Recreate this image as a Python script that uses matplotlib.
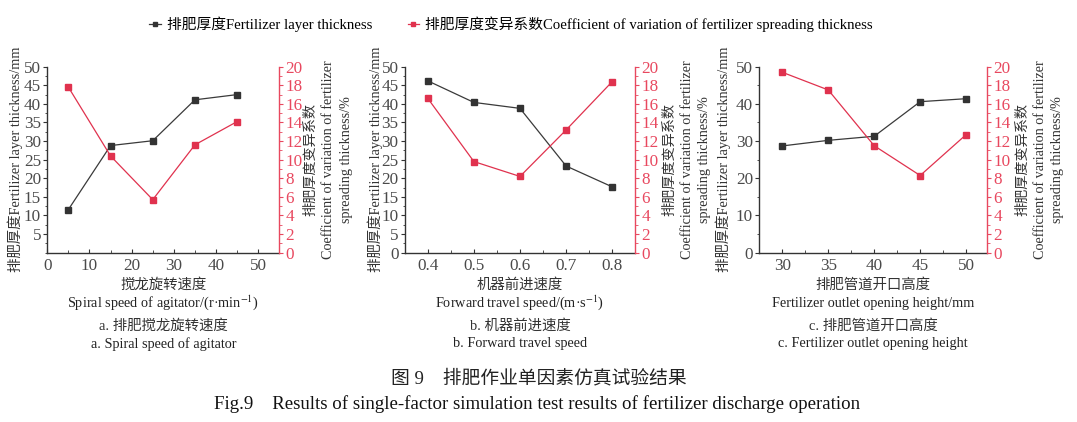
import matplotlib
matplotlib.use("Agg")
import matplotlib.pyplot as plt
from matplotlib.ticker import MultipleLocator
from matplotlib.lines import Line2D

plt.rcParams['font.family'] = ['Liberation Serif', 'Noto Sans CJK SC', 'DejaVu Sans']
plt.rcParams['mathtext.fontset'] = 'stix'

# ---- data ----
a_x = [5, 15, 25, 35, 45]
a_thick = [11.6, 28.8, 30.1, 41.1, 42.5]
a_cv = [17.8, 10.4, 5.7, 11.6, 14.1]

b_x = [0.4, 0.5, 0.6, 0.7, 0.8]
b_thick = [46.2, 40.4, 38.8, 23.3, 17.7]
b_cv = [16.6, 9.8, 8.2, 13.2, 18.4]

c_x = [30, 35, 40, 45, 50]
c_thick = [28.7, 30.2, 31.3, 40.6, 41.4]
c_cv = [19.4, 17.5, 11.5, 8.3, 12.7]

legend_labels = ["排肥厚度Fertilizer layer thickness",
                 "排肥厚度变异系数Coefficient of variation of fertilizer spreading thickness"]
left_label = "排肥厚度Fertilizer layer thickness/mm"
right_label = "排肥厚度变异系数\nCoefficient of variation of fertilizer\nspreading thickness/%"

xlabels_cn = ["搅龙旋转速度", "机器前进速度", "排肥管道开口高度"]
xlabels_en = ["Spiral speed of agitator/(r·min$^{-1}$)",
              "Forward travel speed/(m·s$^{-1}$)",
              "Fertilizer outlet opening height/mm"]
sub_cn = ["a. 排肥搅龙旋转速度", "b. 机器前进速度", "c. 排肥管道开口高度"]
sub_en = ["a. Spiral speed of agitator", "b. Forward travel speed",
          "c. Fertilizer outlet opening height"]
caption_cn = "图 9    排肥作业单因素仿真试验结果"
caption_en = "Fig.9    Results of single-factor simulation test results of fertilizer discharge operation"

BLACK = '#3a3a3a'
RED = '#e0324e'
RED_AX = '#e8485f'
GRAY = '#4a4a4a'

W, H = 1077, 422
fig = plt.figure(figsize=(W / 100, H / 100), dpi=100)


def fx(x):
    return x / W


def fy(y):
    return 1 - y / H


top, bottom = 66.7, 252.7
panels = [
    dict(left=47.3, right=279.3, x=a_x, t=a_thick, cv=a_cv, xlim=(0, 55),
         xticks=[0, 10, 20, 30, 40, 50], xminor=5, xfmt=None,
         yticks=list(range(5, 55, 5)), yminor=2.5, ll=15, rl=328.5),
    dict(left=404.7, right=635.3, x=b_x, t=b_thick, cv=b_cv, xlim=(0.35, 0.85),
         xticks=[0.4, 0.5, 0.6, 0.7, 0.8], xminor=0.05, xfmt='%.1f',
         yticks=list(range(0, 55, 5)), yminor=2.5, ll=375, rl=687),
    dict(left=759.3, right=987.3, x=c_x, t=c_thick, cv=c_cv, xlim=(27.5, 52.3),
         xticks=[30, 35, 40, 45, 50], xminor=2.5, xfmt=None,
         yticks=list(range(0, 60, 10)), yminor=5, ll=723, rl=1040),
]

for i, p in enumerate(panels):
    ax = fig.add_axes([fx(p['left']), fy(bottom), fx(p['right'] - p['left']),
                       (bottom - top) / H])
    ax2 = ax.twinx()
    ax.plot(p['x'], p['t'], color=BLACK, lw=0.9, marker='s', ms=3.8,
            mfc='#333333', mec='#333333', zorder=3)
    ax2.plot(p['x'], p['cv'], color=RED, lw=0.9, marker='s', ms=3.8,
             mfc=RED, mec=RED, zorder=3)
    ax.set_xlim(*p['xlim'])
    ax.set_ylim(0, 50)
    ax2.set_ylim(0, 20)
    ax.set_xticks(p['xticks'])
    if p['xfmt']:
        ax.set_xticklabels([p['xfmt'] % v for v in p['xticks']])
    ax.xaxis.set_minor_locator(MultipleLocator(p['xminor']))
    ax.set_yticks(p['yticks'])
    ax.yaxis.set_minor_locator(MultipleLocator(p['yminor']))
    ax2.set_yticks(list(range(0, 22, 2)))
    ax2.yaxis.set_minor_locator(MultipleLocator(1))

    for a in (ax, ax2):
        a.spines['top'].set_visible(False)
    ax.spines['right'].set_visible(False)
    ax2.spines['left'].set_visible(False)
    ax2.spines['bottom'].set_visible(False)
    for s in ('left', 'bottom'):
        ax.spines[s].set_color('#333333')
        ax.spines[s].set_linewidth(1.0)
    ax2.spines['right'].set_color(RED_AX)
    ax2.spines['right'].set_linewidth(1.0)

    ax.tick_params(axis='x', direction='in', length=3, width=0.8, pad=4,
                   labelsize=12.3, colors='#333333', labelcolor=GRAY)
    ax.tick_params(axis='x', which='minor', direction='in', length=2, width=0.6,
                   colors='#333333')
    ax.tick_params(axis='y', direction='out', length=3, width=0.8, pad=1.5,
                   labelsize=12.3, colors='#333333', labelcolor=GRAY)
    ax.tick_params(axis='y', which='minor', direction='out', length=1.8,
                   width=0.6, colors='#333333')
    ax2.tick_params(axis='y', direction='out', length=3, width=0.8, pad=1.5,
                    labelsize=12.3, colors=RED_AX, labelcolor=RED_AX)
    ax2.tick_params(axis='y', which='minor', direction='out', length=1.8,
                    width=0.6, colors=RED_AX)

    mid_y = (top + bottom) / 2
    fig.text(fx(p['ll']), fy(mid_y), left_label, rotation=90, ha='center',
             va='center', fontsize=10.4, color='#333333')
    fig.text(fx(p['rl']), fy(mid_y), right_label, rotation=90, ha='center',
             va='center', fontsize=10.2, color='#333333', multialignment='center',
             linespacing=1.45)

    cx = (p['left'] + p['right']) / 2
    fig.text(fx(cx), fy(284.5), xlabels_cn[i], ha='center', va='center',
             fontsize=10.4, color='#333333')
    fig.text(fx(cx), fy(303), xlabels_en[i], ha='center', va='center',
             fontsize=10.3, color='#222222')
    fig.text(fx(cx), fy(326), sub_cn[i], ha='center', va='center',
             fontsize=10.4, color='#333333')
    fig.text(fx(cx), fy(344), sub_en[i], ha='center', va='center',
             fontsize=10.3, color='#222222')

fig.text(fx(539), fy(378), caption_cn, ha='center', va='center', fontsize=13.5,
         color='#222222')
fig.text(fx(537), fy(404), caption_en, ha='center', va='center', fontsize=13.6,
         color='#111111')

handles = [Line2D([], [], color=BLACK, lw=0.9, marker='s', ms=3.5,
                  mfc='#333333', mec='#333333'),
           Line2D([], [], color=RED, lw=0.9, marker='s', ms=3.5,
                  mfc=RED, mec=RED)]
fig.legend(handles, legend_labels, loc='center', bbox_to_anchor=(fx(511), fy(24)),
           ncol=2, frameon=False, fontsize=10.6, handlelength=0.8,
           handletextpad=0.4, columnspacing=2.4, borderaxespad=0)

fig.savefig('out.png', dpi=100)
